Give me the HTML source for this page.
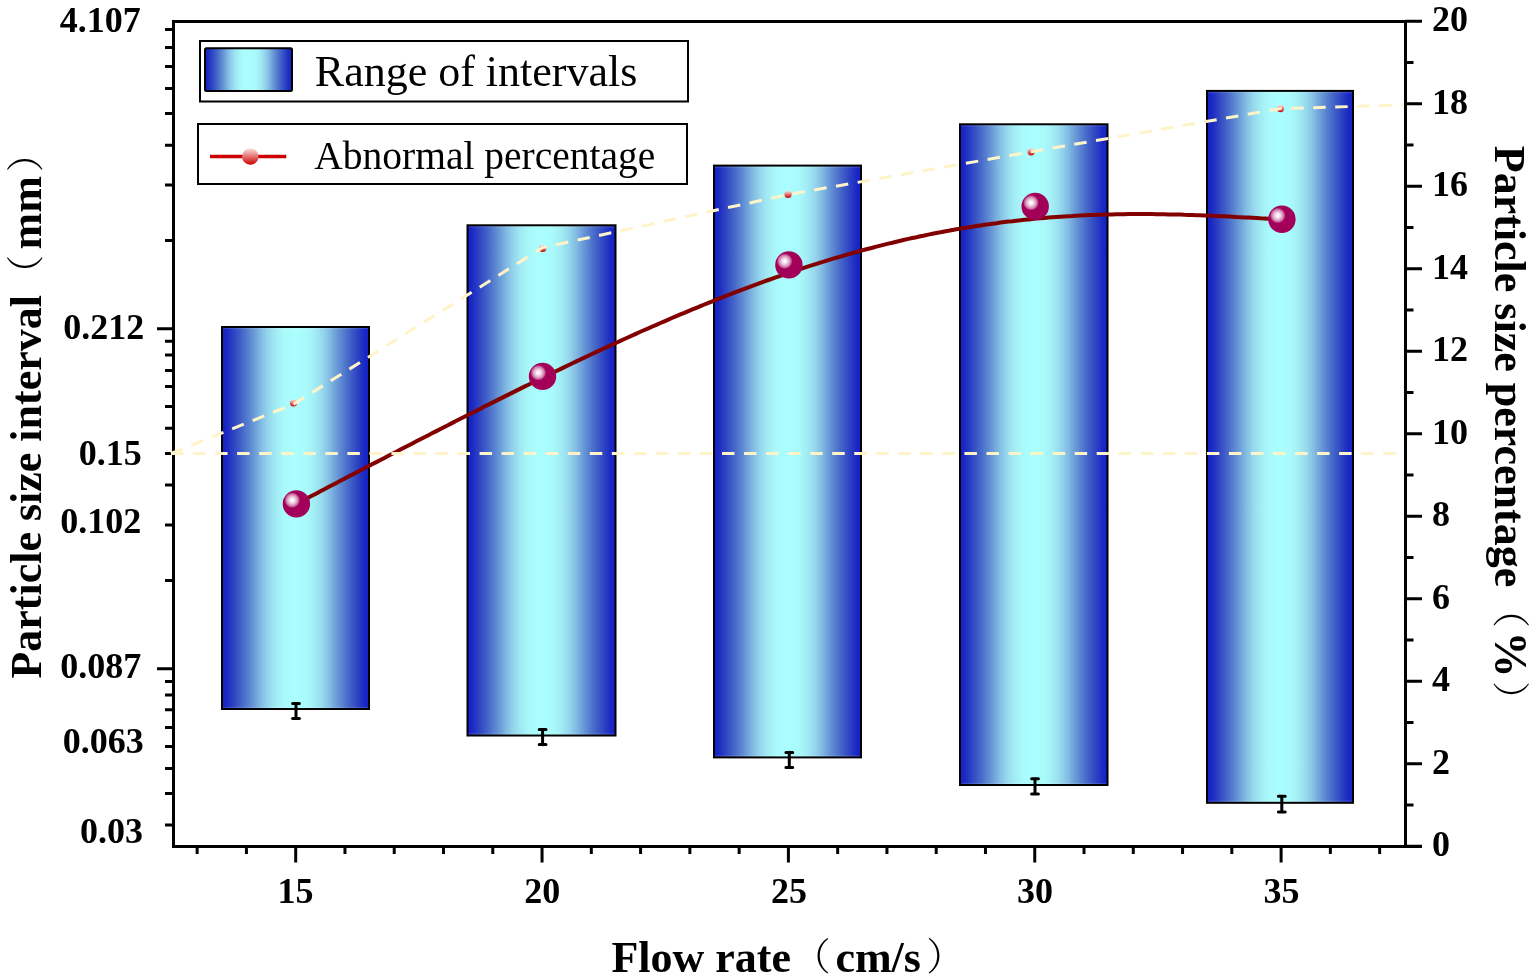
<!DOCTYPE html>
<html><head><meta charset="utf-8"><title>Particle size chart</title>
<style>
html,body{margin:0;padding:0;background:#fff;}
svg{display:block;}
text{font-family:"Liberation Serif","Noto Serif CJK SC",serif;fill:#000;}
.b{font-weight:bold;}
.cjk{font-family:"Liberation Serif","Noto Serif CJK SC",serif;font-weight:300;}
</style></head><body>
<svg width="1536" height="979" viewBox="0 0 1536 979">
<defs>
<linearGradient id="barg" x1="0" y1="0" x2="1" y2="0">
<stop offset="0.000" stop-color="#1420c8"/>
<stop offset="0.030" stop-color="#1a28c4"/>
<stop offset="0.070" stop-color="#2a3ec2"/>
<stop offset="0.110" stop-color="#3a56c6"/>
<stop offset="0.150" stop-color="#4a6eca"/>
<stop offset="0.190" stop-color="#5c88d2"/>
<stop offset="0.230" stop-color="#70a2da"/>
<stop offset="0.270" stop-color="#84bee4"/>
<stop offset="0.310" stop-color="#94d4ec"/>
<stop offset="0.350" stop-color="#9ee6f2"/>
<stop offset="0.390" stop-color="#a6f2f7"/>
<stop offset="0.430" stop-color="#aafafb"/>
<stop offset="0.500" stop-color="#aafefe"/>
<stop offset="0.570" stop-color="#aafafb"/>
<stop offset="0.610" stop-color="#a6f2f7"/>
<stop offset="0.650" stop-color="#9ee6f2"/>
<stop offset="0.690" stop-color="#94d4ec"/>
<stop offset="0.730" stop-color="#84bee4"/>
<stop offset="0.770" stop-color="#70a2da"/>
<stop offset="0.810" stop-color="#5c88d2"/>
<stop offset="0.850" stop-color="#4a6eca"/>
<stop offset="0.890" stop-color="#3a56c6"/>
<stop offset="0.930" stop-color="#2a3ec2"/>
<stop offset="0.970" stop-color="#1a28c4"/>
<stop offset="1.000" stop-color="#1420c8"/>
</linearGradient>
<radialGradient id="sph" cx="0.347" cy="0.365" r="0.62" fx="0.347" fy="0.365">
<stop offset="0" stop-color="#ffffff"/>
<stop offset="0.07" stop-color="#fff8fb"/>
<stop offset="0.17" stop-color="#f0d2e2"/>
<stop offset="0.27" stop-color="#e0a6c6"/>
<stop offset="0.36" stop-color="#cc70a2"/>
<stop offset="0.42" stop-color="#b4307c"/>
<stop offset="0.46" stop-color="#a3005a"/>
<stop offset="1" stop-color="#a3005a"/>
</radialGradient>
<linearGradient id="dotg" x1="0" y1="0" x2="0" y2="1">
<stop offset="0" stop-color="#fae4e0"/>
<stop offset="1" stop-color="#cc0000"/>
</linearGradient>
</defs>
<rect x="0" y="0" width="1536" height="979" fill="#fff"/>

<path d="M173.5,21.5 H1405.5 M173.5,20 V848 M172,846.5 H1422 M1405.5,20 V845" stroke="#000" stroke-width="3" fill="none"/>
<path d="M165,29.4 H173 M165,47.4 H173 M165,66.5 H173 M165,88.4 H173 M165,113.5 H173 M165,145.3 H173 M165,184.9 H173 M165,240.4 H173 M165,341.2 H173 M165,355.1 H173 M165,370.6 H173 M165,386.5 H173 M165,406.4 H173 M165,428.3 H173 M165,453.4 H173 M165,485.1 H173 M165,525.1 H173 M165,580.4 H173 M165,681.4 H173 M165,695.1 H173 M165,709.8 H173 M165,727.6 H173 M165,746.4 H173 M165,768.5 H173 M165,793.6 H173 M165,825.1 H173 M157,328.7 H173 M157,668.8 H173 " stroke="#000" stroke-width="3" fill="none"/>
<path d="M1405,846.20 H1422 M1405,804.95 H1413.5 M1405,763.70 H1422 M1405,722.45 H1413.5 M1405,681.20 H1422 M1405,639.95 H1413.5 M1405,598.70 H1422 M1405,557.45 H1413.5 M1405,516.20 H1422 M1405,474.95 H1413.5 M1405,433.70 H1422 M1405,392.45 H1413.5 M1405,351.20 H1422 M1405,309.95 H1413.5 M1405,268.70 H1422 M1405,227.45 H1413.5 M1405,186.20 H1422 M1405,144.95 H1413.5 M1405,103.70 H1422 M1405,62.45 H1413.5 M1405,21.20 H1422 " stroke="#000" stroke-width="3" fill="none"/>
<path d="M197.16,847 V854 M246.43,847 V854 M295.70,847 V862.5 M344.97,847 V854 M394.24,847 V854 M443.51,847 V854 M492.78,847 V854 M542.05,847 V862.5 M591.32,847 V854 M640.59,847 V854 M689.86,847 V854 M739.13,847 V854 M788.40,847 V862.5 M837.67,847 V854 M886.94,847 V854 M936.21,847 V854 M985.48,847 V854 M1034.75,847 V862.5 M1084.02,847 V854 M1133.29,847 V854 M1182.56,847 V854 M1231.83,847 V854 M1281.10,847 V862.5 M1330.37,847 V854 M1379.64,847 V854 " stroke="#000" stroke-width="3" fill="none"/>
<rect x="222" y="327" width="147" height="382" fill="url(#barg)" stroke="#000" stroke-width="2"/>
<rect x="223" y="328" width="145" height="1.2" fill="#fff" fill-opacity="0.13"/>
<rect x="223" y="706.8" width="145" height="1.2" fill="#fff" fill-opacity="0.13"/>
<rect x="467.5" y="225.3" width="148.0" height="510.20000000000005" fill="url(#barg)" stroke="#000" stroke-width="2"/>
<rect x="468.5" y="226.3" width="146.0" height="1.2" fill="#fff" fill-opacity="0.13"/>
<rect x="468.5" y="733.3" width="146.0" height="1.2" fill="#fff" fill-opacity="0.13"/>
<rect x="714" y="165.6" width="147" height="591.8" fill="url(#barg)" stroke="#000" stroke-width="2"/>
<rect x="715" y="166.6" width="145" height="1.2" fill="#fff" fill-opacity="0.13"/>
<rect x="715" y="755.1999999999999" width="145" height="1.2" fill="#fff" fill-opacity="0.13"/>
<rect x="960" y="124.3" width="147.5" height="660.7" fill="url(#barg)" stroke="#000" stroke-width="2"/>
<rect x="961" y="125.3" width="145.5" height="1.2" fill="#fff" fill-opacity="0.13"/>
<rect x="961" y="782.8" width="145.5" height="1.2" fill="#fff" fill-opacity="0.13"/>
<rect x="1207" y="90.9" width="146" height="711.9" fill="url(#barg)" stroke="#000" stroke-width="2"/>
<rect x="1208" y="91.9" width="144" height="1.2" fill="#fff" fill-opacity="0.13"/>
<rect x="1208" y="800.5999999999999" width="144" height="1.2" fill="#fff" fill-opacity="0.13"/>
<path d="M296.4,503.9 L300.4,501.8 L304.4,499.7 L308.4,497.6 L312.4,495.5 L316.4,493.4 L320.4,491.3 L324.4,489.2 L328.4,487.1 L332.4,485.0 L336.4,482.9 L340.4,480.8 L344.4,478.7 L348.4,476.6 L352.4,474.6 L356.4,472.5 L360.4,470.4 L364.4,468.3 L368.4,466.2 L372.4,464.1 L376.4,462.1 L380.4,460.0 L384.4,457.9 L388.4,455.8 L392.4,453.8 L396.4,451.7 L400.4,449.6 L404.4,447.5 L408.4,445.5 L412.4,443.4 L416.4,441.3 L420.4,439.3 L424.4,437.2 L428.4,435.2 L432.4,433.1 L436.4,431.1 L440.4,429.0 L444.4,427.0 L448.4,424.9 L452.4,422.9 L456.4,420.8 L460.4,418.8 L464.4,416.8 L468.4,414.7 L472.4,412.7 L476.4,410.7 L480.4,408.7 L484.4,406.6 L488.4,404.6 L492.4,402.6 L496.4,400.6 L500.4,398.6 L504.4,396.6 L508.4,394.6 L512.4,392.6 L516.4,390.6 L520.4,388.6 L524.4,386.6 L528.4,384.7 L532.4,382.7 L536.4,380.7 L540.4,378.8 L544.4,376.8 L548.4,374.9 L552.4,372.9 L556.4,371.0 L560.4,369.1 L564.4,367.1 L568.4,365.2 L572.4,363.3 L576.4,361.4 L580.4,359.5 L584.4,357.6 L588.4,355.7 L592.4,353.8 L596.4,351.9 L600.4,350.1 L604.4,348.2 L608.4,346.4 L612.4,344.5 L616.4,342.7 L620.4,340.9 L624.4,339.0 L628.4,337.2 L632.4,335.4 L636.4,333.6 L640.4,331.8 L644.4,330.0 L648.4,328.3 L652.4,326.5 L656.4,324.8 L660.4,323.0 L664.4,321.3 L668.4,319.6 L672.4,317.8 L676.4,316.1 L680.4,314.4 L684.4,312.8 L688.4,311.1 L692.4,309.4 L696.4,307.8 L700.4,306.1 L704.4,304.5 L708.4,302.9 L712.4,301.3 L716.4,299.7 L720.4,298.1 L724.4,296.5 L728.4,295.0 L732.4,293.4 L736.4,291.9 L740.4,290.3 L744.4,288.8 L748.4,287.3 L752.4,285.8 L756.4,284.4 L760.4,282.9 L764.4,281.4 L768.4,280.0 L772.4,278.6 L776.4,277.2 L780.4,275.8 L784.4,274.4 L788.4,273.0 L792.4,271.7 L796.4,270.3 L800.4,269.0 L804.4,267.7 L808.4,266.4 L812.4,265.1 L816.4,263.9 L820.4,262.6 L824.4,261.4 L828.4,260.1 L832.4,258.9 L836.4,257.7 L840.4,256.6 L844.4,255.4 L848.4,254.2 L852.4,253.1 L856.4,252.0 L860.4,250.9 L864.4,249.8 L868.4,248.7 L872.4,247.7 L876.4,246.6 L880.4,245.6 L884.4,244.6 L888.4,243.6 L892.4,242.7 L896.4,241.7 L900.4,240.8 L904.4,239.8 L908.4,238.9 L912.4,238.0 L916.4,237.2 L920.4,236.3 L924.4,235.5 L928.4,234.6 L932.4,233.8 L936.4,233.0 L940.4,232.3 L944.4,231.5 L948.4,230.8 L952.4,230.0 L956.4,229.3 L960.4,228.6 L964.4,228.0 L968.4,227.3 L972.4,226.7 L976.4,226.0 L980.4,225.4 L984.4,224.8 L988.4,224.3 L992.4,223.7 L996.4,223.2 L1000.4,222.6 L1004.4,222.1 L1008.4,221.6 L1012.4,221.2 L1016.4,220.7 L1020.4,220.3 L1024.4,219.8 L1028.4,219.4 L1032.4,219.0 L1036.4,218.6 L1040.4,218.3 L1044.4,217.9 L1048.4,217.6 L1052.4,217.3 L1056.4,217.0 L1060.4,216.7 L1064.4,216.4 L1068.4,216.2 L1072.4,216.0 L1076.4,215.7 L1080.4,215.5 L1084.4,215.3 L1088.4,215.1 L1092.4,215.0 L1096.4,214.8 L1100.4,214.7 L1104.4,214.6 L1108.4,214.5 L1112.4,214.4 L1116.4,214.3 L1120.4,214.2 L1124.4,214.2 L1128.4,214.1 L1132.4,214.1 L1136.4,214.1 L1140.4,214.1 L1144.4,214.1 L1148.4,214.1 L1152.4,214.1 L1156.4,214.2 L1160.4,214.2 L1164.4,214.3 L1168.4,214.4 L1172.4,214.4 L1176.4,214.5 L1180.4,214.6 L1184.4,214.8 L1188.4,214.9 L1192.4,215.0 L1196.4,215.2 L1200.4,215.3 L1204.4,215.5 L1208.4,215.6 L1212.4,215.8 L1216.4,216.0 L1220.4,216.2 L1224.4,216.3 L1228.4,216.5 L1232.4,216.7 L1236.4,217.0 L1240.4,217.2 L1244.4,217.4 L1248.4,217.6 L1252.4,217.8 L1256.4,218.0 L1260.4,218.3 L1264.4,218.5 L1268.4,218.7 L1272.4,219.0 L1276.4,219.2 L1280.4,219.4" fill="none" stroke="#830000" stroke-width="4" stroke-linejoin="round"/>
<line x1="171" y1="453.5" x2="1400" y2="453.5" stroke="#fff3c8" stroke-width="3" stroke-dasharray="12.5 9.54"/>
<circle cx="293.5" cy="403" r="3.6" fill="url(#dotg)"/>
<circle cx="542.7" cy="248.4" r="3.6" fill="url(#dotg)"/>
<circle cx="788.1" cy="194.4" r="3.6" fill="url(#dotg)"/>
<circle cx="1031.1" cy="151.8" r="3.6" fill="url(#dotg)"/>
<circle cx="1280.5" cy="108.6" r="3.6" fill="url(#dotg)"/>
<path d="M171,453.5 L293.5,404.2 L542.7,247.6 L788.1,194.6 L1031.1,151.8 L1280.5,108.6 L1403,105" fill="none" stroke="#fff3c8" stroke-width="3" stroke-dasharray="12.5 9.5" stroke-linejoin="round"/>
<circle cx="296.4" cy="503.9" r="13.7" fill="url(#sph)"/>
<circle cx="542.5" cy="376.4" r="13.7" fill="url(#sph)"/>
<circle cx="788.9" cy="264.9" r="13.7" fill="url(#sph)"/>
<circle cx="1035.2" cy="206.4" r="13.7" fill="url(#sph)"/>
<circle cx="1281.9" cy="219.2" r="13.7" fill="url(#sph)"/>
<path d="M296,703.4000000000001 V718.5 M292.6,703.5 H299.4 M292.6,718.4000000000001 H299.4" stroke="#000" stroke-width="3" fill="none" stroke-linecap="round"/>
<path d="M542.6,729.4000000000001 V744.6999999999999 M539.2,729.5 H546.0 M539.2,744.6 H546.0" stroke="#000" stroke-width="3" fill="none" stroke-linecap="round"/>
<path d="M789.3,752.3000000000001 V767.5 M785.9,752.4 H792.6999999999999 M785.9,767.4000000000001 H792.6999999999999" stroke="#000" stroke-width="3" fill="none" stroke-linecap="round"/>
<path d="M1035,778.6 V794.0999999999999 M1031.6,778.6999999999999 H1038.4 M1031.6,794.0 H1038.4" stroke="#000" stroke-width="3" fill="none" stroke-linecap="round"/>
<path d="M1281.8,796.2 V812.0 M1278.3999999999999,796.3 H1285.2 M1278.3999999999999,811.9000000000001 H1285.2" stroke="#000" stroke-width="3" fill="none" stroke-linecap="round"/>
<rect x="200" y="41" width="488" height="60.5" fill="#fff" stroke="#000" stroke-width="2"/>
<rect x="205" y="48.2" width="87" height="42.8" rx="1.5" fill="url(#barg)" stroke="#000" stroke-width="2"/>
<rect x="198" y="124" width="489" height="60" fill="#fff" stroke="#000" stroke-width="2"/>
<line x1="210" y1="156.5" x2="286.3" y2="156.5" stroke="#cc0000" stroke-width="3.3"/>
<circle cx="250.3" cy="156.5" r="8.3" fill="url(#dotg)"/>
<text x="314.8" y="86" font-size="44">Range of intervals</text>
<text x="314.3" y="168.75" font-size="39.5">Abnormal percentage</text>
<text class="b" x="59.7" y="32" font-size="36">4.107</text>
<text class="b" x="63.3" y="338.8" font-size="36">0.212</text>
<text class="b" x="78.7" y="464.9" font-size="36">0.15</text>
<text class="b" x="60.2" y="533.3" font-size="36">0.102</text>
<text class="b" x="60.2" y="677.6" font-size="36">0.087</text>
<text class="b" x="62.7" y="752.7" font-size="36">0.063</text>
<text class="b" x="80.0" y="843" font-size="36">0.03</text>
<text class="b" x="1432" y="856.4" font-size="36">0</text>
<text class="b" x="1432" y="773.9" font-size="36">2</text>
<text class="b" x="1432" y="691.4" font-size="36">4</text>
<text class="b" x="1432" y="608.9" font-size="36">6</text>
<text class="b" x="1432" y="526.4" font-size="36">8</text>
<text class="b" x="1432" y="443.9" font-size="36">10</text>
<text class="b" x="1432" y="361.4" font-size="36">12</text>
<text class="b" x="1432" y="278.9" font-size="36">14</text>
<text class="b" x="1432" y="196.4" font-size="36">16</text>
<text class="b" x="1432" y="113.9" font-size="36">18</text>
<text class="b" x="1432" y="31.4" font-size="36">20</text>
<text class="b" x="295.5" y="902.7" font-size="36" text-anchor="middle">15</text>
<text class="b" x="542.3" y="902.7" font-size="36" text-anchor="middle">20</text>
<text class="b" x="789" y="902.7" font-size="36" text-anchor="middle">25</text>
<text class="b" x="1035" y="902.7" font-size="36" text-anchor="middle">30</text>
<text class="b" x="1281.5" y="902.7" font-size="36" text-anchor="middle">35</text>
<text class="b" font-size="44"><tspan x="611.4" y="971.6">Flow rate</tspan><tspan class="cjk" font-weight="300" font-size="38" x="792.75" y="970.25">（</tspan><tspan x="835.4" y="971.6">cm/s</tspan><tspan class="cjk" font-weight="300" font-size="38" x="926.35" y="970.25">）</tspan></text>
<text class="b" font-size="44" transform="translate(40.6,677.6) rotate(-90)"><tspan x="-1" y="0">Particle size interval</tspan><tspan class="cjk" font-weight="300" font-size="38" x="384.85" y="-1.6">（</tspan><tspan x="428.2" y="0">mm</tspan><tspan class="cjk" font-weight="300" font-size="38" x="505.45" y="-1.6">）</tspan></text>
<text class="b" font-size="44" transform="translate(1495.2,146.8) rotate(90)"><tspan x="-1" y="0">Particle size percentage</tspan><tspan class="cjk" font-weight="300" font-size="38" x="443.1" y="-1.5">（</tspan><tspan font-size="46" x="484.75" y="0">%</tspan><tspan class="cjk" font-weight="300" font-size="38" x="534.3" y="-1.5">）</tspan></text>
</svg>
</body></html>
